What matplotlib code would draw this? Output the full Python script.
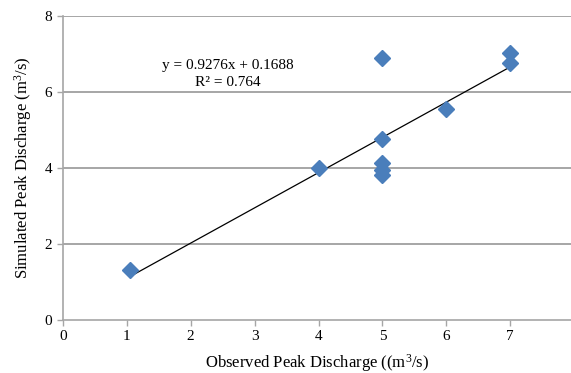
import matplotlib
matplotlib.use("Agg")
import matplotlib.pyplot as plt
import numpy as np

plt.rcParams['font.family'] = ['Liberation Serif', 'DejaVu Serif']
plt.rcParams['mathtext.fontset'] = 'custom'
plt.rcParams['mathtext.rm'] = 'Liberation Serif'
plt.rcParams['mathtext.it'] = 'Liberation Serif:italic'

observed = [1.05, 4.0, 5.0, 5.0, 5.0, 5.0, 5.0, 6.0, 7.0, 7.0]
simulated = [1.32, 4.0, 6.89, 4.76, 4.13, 3.95, 3.82, 5.55, 7.03, 6.76]
slope = 0.9276
intercept = 0.1688
r2 = 0.764
xticks = [0, 1, 2, 3, 4, 5, 6, 7]
yticks = [0, 2, 4, 6, 8]

fig = plt.figure(figsize=(5.71, 3.73), dpi=100)
ax = fig.add_axes([0.110, 0.142, 0.890, 0.815])

for y in yticks[1:]:
    ax.axhline(y, color='#a6a6a6', lw=1.4, zorder=0)

xs = np.array([min(observed), max(observed)])
ax.plot(xs, slope * xs + intercept, color='black', lw=0.9, zorder=2)
ax.plot(observed, simulated, linestyle='none', marker='D', ms=8,
        color='#4a7ebb', markeredgecolor='#4a7ebb', zorder=3)

ax.text(2.58, 6.71, f'y = {slope}x + {intercept}', ha='center', va='center', fontsize=11)
ax.text(2.58, 6.25, f'R² = {r2}', ha='center', va='center', fontsize=11)

ax.set_xlim(0, 7.95)
ax.set_ylim(0, 8)
ax.set_xticks(xticks)
ax.set_yticks(yticks)
ax.tick_params(axis='both', colors='#a6a6a6', labelcolor='black', labelsize=11, length=4, width=1)
for s in ['top', 'right']:
    ax.spines[s].set_visible(False)
for s in ['left', 'bottom']:
    ax.spines[s].set_color('#a6a6a6')
    ax.spines[s].set_linewidth(1.2)

ax.set_xlabel('Observed Peak Discharge ((m$^3$/s)', fontsize=12, labelpad=6)
ax.set_ylabel('Simulated Peak Discharge (m$^3$/s)', fontsize=12, labelpad=8)

fig.savefig('out.png', dpi=100)
